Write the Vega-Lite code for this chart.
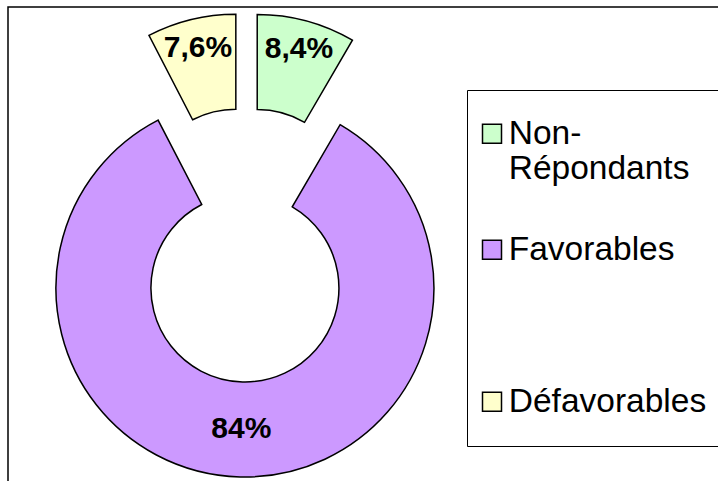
{
  "$schema": "https://vega.github.io/schema/vega-lite/v6.json",
  "width": 716,
  "height": 476,
  "autosize": {"type": "none"},
  "padding": {"left": 8, "top": 7, "right": -6, "bottom": -2},
  "background": "white",
  "config": {
    "view": {"stroke": "black", "strokeWidth": 1.5},
    "locale": {"number": {"decimal": ",", "thousands": " ", "grouping": [3], "currency": ["", " €"]}},
    "font": "Liberation Sans"
  },
  "data": {
    "values": [
      {"categorie": "Non-Répondants", "part": 0.084, "ordre": 1},
      {"categorie": "Favorables", "part": 0.84, "ordre": 2},
      {"categorie": "Défavorables", "part": 0.076, "ordre": 3}
    ]
  },
  "encoding": {
    "x": {"datum": 1, "type": "quantitative", "scale": {"domain": [0, 3.0084], "nice": false, "zero": false}, "axis": null},
    "theta": {"field": "part", "type": "quantitative", "stack": true},
    "order": {"field": "ordre", "type": "quantitative"},
    "color": {
      "field": "categorie",
      "type": "nominal",
      "scale": {
        "domain": ["Non-Répondants", "Favorables", "Défavorables"],
        "range": ["#CCFFCC", "#CC99FF", "#FFFFCC"]
      },
      "legend": {
        "title": null,
        "orient": "none",
        "legendX": 459,
        "legendY": 83,
        "symbolType": "square",
        "symbolSize": 361,
        "symbolStrokeColor": "black",
        "symbolStrokeWidth": 1.5,
        "symbolOpacity": 1,
        "symbolOffset": -18.75,
        "labelFont": "Liberation Sans",
        "labelFontSize": 33.5,
        "labelColor": "black",
        "labelOffset": 0,
        "labelLimit": 500,
        "labelExpr": "datum.label == 'Non-Répondants' ? ['Non-', 'Répondants'] : datum.label == 'Favorables' ? ['Favorables', '', ''] : datum.label + '\u00a0\u00a0\u00a0\u00a0'",
        "padding": 27,
        "strokeColor": "black",
        "fillColor": "white",
        "rowPadding": 46
      }
    }
  },
  "layer": [
    {
      "mark": {
        "type": "arc",
        "outerRadius": 189,
        "innerRadius": 94,
        "stroke": "black",
        "strokeWidth": 1.5,
        "opacity": 1,
        "xOffset": {"expr": "43*sin(PI*(datum.part_start+datum.part_end))"},
        "yOffset": {"expr": "-43*cos(PI*(datum.part_start+datum.part_end))"}
      }
    },
    {
      "mark": {
        "type": "text",
        "radius": {"expr": "datum.part > 0.5 ? 141 : 160"},
        "font": "Liberation Sans",
        "fontWeight": "bold",
        "fontSize": 30,
        "baseline": "middle",
        "align": "center",
        "xOffset": {"expr": "43*sin(PI*(datum.part_start+datum.part_end))"},
        "yOffset": {"expr": "-43*cos(PI*(datum.part_start+datum.part_end))"}
      },
      "encoding": {
        "text": {"field": "part", "type": "quantitative", "format": ".2~%"},
        "color": {"value": "black"}
      }
    }
  ]
}
